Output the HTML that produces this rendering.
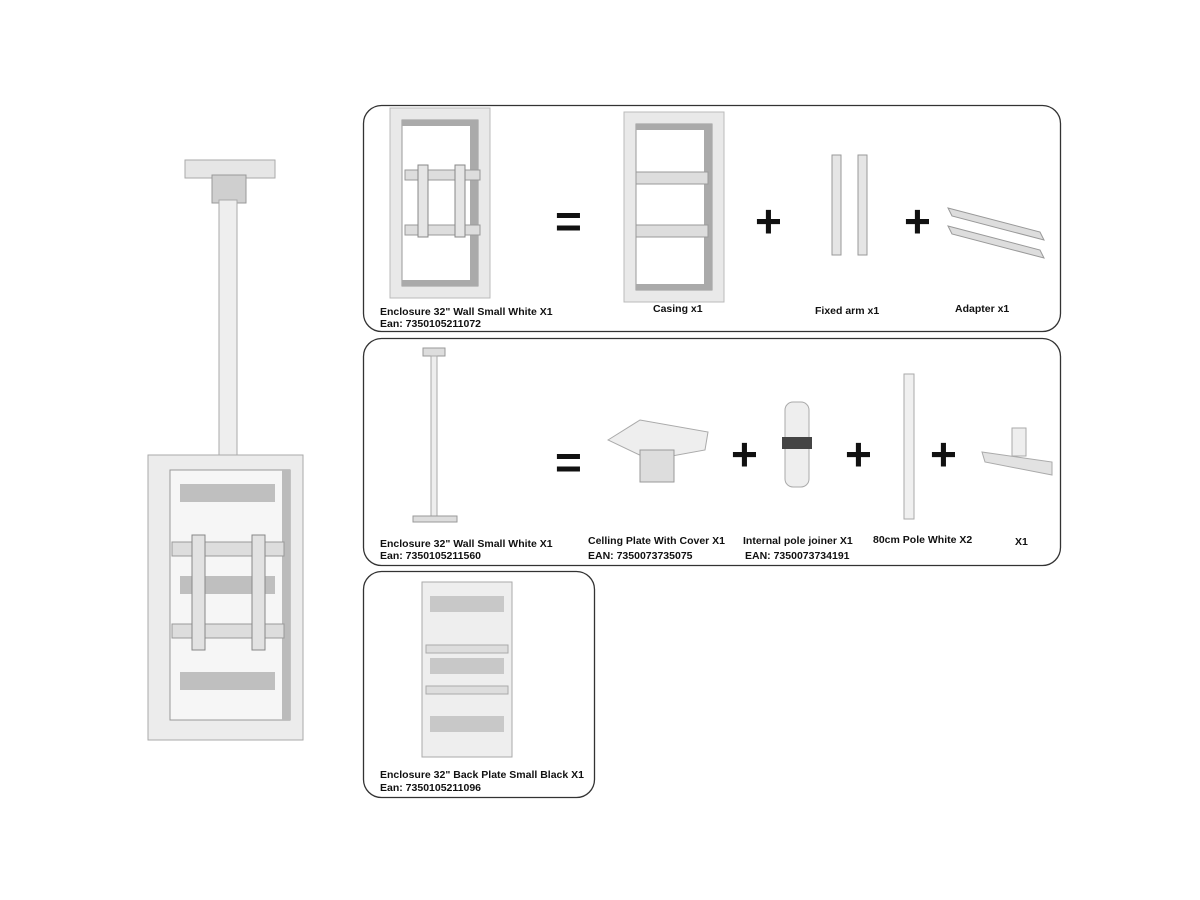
<!DOCTYPE html>
<html><head><style>
body{margin:0;background:#fff;}
svg{display:block}
text{font-family:"Liberation Sans",Arial,sans-serif;font-weight:bold;font-size:10.5px;fill:#111}
.pl{font-size:46px}
</style></head><body>
<svg width="1200" height="900" viewBox="0 0 1200 900" xmlns="http://www.w3.org/2000/svg">
<defs>
<g id="frame">
 <rect x="0" y="0" width="100" height="190" fill="#e9e9e9" stroke="#bbb"/>
 <rect x="12" y="12" width="76" height="166" fill="#fff" stroke="#999"/>
 <rect x="80" y="12" width="8" height="166" fill="#aaa"/>
 <rect x="12" y="12" width="76" height="6" fill="#aaa"/>
 <rect x="12" y="172" width="76" height="6" fill="#aaa"/>
</g>
</defs>
<!-- left big enclosure -->
<rect x="185" y="160" width="90" height="18" fill="#e6e6e6" stroke="#aaa"/>
<rect x="212" y="175" width="34" height="28" fill="#cfcfcf" stroke="#999"/>
<rect x="219" y="200" width="18" height="255" fill="#eee" stroke="#aaa"/>
<rect x="148" y="455" width="155" height="285" fill="#ececec" stroke="#aaa"/>
<rect x="170" y="470" width="120" height="250" fill="#f6f6f6" stroke="#999"/>
<rect x="282" y="470" width="8" height="250" fill="#bbb"/>
<g fill="#888">
 <rect x="180" y="484" width="95" height="18" opacity=".5"/>
 <rect x="180" y="576" width="95" height="18" opacity=".5"/>
 <rect x="180" y="672" width="95" height="18" opacity=".5"/>
</g>
<rect x="172" y="542" width="112" height="14" fill="#ddd" stroke="#999"/>
<rect x="172" y="624" width="112" height="14" fill="#ddd" stroke="#999"/>
<rect x="192" y="535" width="13" height="115" fill="#e2e2e2" stroke="#888"/>
<rect x="252" y="535" width="13" height="115" fill="#e2e2e2" stroke="#888"/>

<!-- panels -->
<g fill="none" stroke="#333" stroke-width="1.3">
<rect x="363.5" y="105.5" width="697" height="226" rx="18"/>
<rect x="363.5" y="338.5" width="697" height="227" rx="18"/>
<rect x="363.5" y="571.5" width="231" height="226" rx="18"/>
</g>

<!-- panel 1 -->
<use href="#frame" transform="translate(390,108)"/>
<rect x="405" y="170" width="75" height="10" fill="#ddd" stroke="#999"/>
<rect x="405" y="225" width="75" height="10" fill="#ddd" stroke="#999"/>
<rect x="418" y="165" width="10" height="72" fill="#e5e5e5" stroke="#888"/>
<rect x="455" y="165" width="10" height="72" fill="#e5e5e5" stroke="#888"/>
<use href="#frame" transform="translate(624,112)"/>
<rect x="636" y="172" width="72" height="12" fill="#ddd" stroke="#999"/>
<rect x="636" y="225" width="72" height="12" fill="#ddd" stroke="#999"/>
<rect x="832" y="155" width="9" height="100" fill="#e5e5e5" stroke="#999"/>
<rect x="858" y="155" width="9" height="100" fill="#e5e5e5" stroke="#999"/>
<polygon points="948,208 1040,232 1044,240 952,216" fill="#ddd" stroke="#999"/>
<polygon points="948,226 1040,250 1044,258 952,234" fill="#ddd" stroke="#999"/>
<text class="pl" x="555" y="237">=</text>
<text class="pl" x="755" y="237">+</text>
<text class="pl" x="904" y="237">+</text>
<text x="380" y="315">Enclosure 32" Wall Small White X1</text>
<text x="380" y="327">Ean: 7350105211072</text>
<text x="653" y="312">Casing x1</text>
<text x="815" y="314">Fixed arm x1</text>
<text x="955" y="312">Adapter x1</text>

<!-- panel 2 -->
<rect x="423" y="348" width="22" height="8" fill="#ddd" stroke="#999"/>
<rect x="431" y="356" width="6" height="160" fill="#eee" stroke="#aaa"/>
<rect x="413" y="516" width="44" height="6" fill="#ddd" stroke="#999"/>
<polygon points="608,440 640,420 708,432 705,450 650,460" fill="#eee" stroke="#aaa"/>
<rect x="640" y="450" width="34" height="32" fill="#ddd" stroke="#999"/>
<rect x="785" y="402" width="24" height="85" rx="8" fill="#eee" stroke="#aaa"/>
<rect x="782" y="437" width="30" height="12" fill="#444"/>
<rect x="904" y="374" width="10" height="145" fill="#f0f0f0" stroke="#aaa"/>
<rect x="1012" y="428" width="14" height="28" fill="#eee" stroke="#aaa"/>
<polygon points="982,452 1052,462 1052,475 985,462" fill="#e2e2e2" stroke="#aaa"/>
<text class="pl" x="555" y="478">=</text>
<text class="pl" x="731" y="470">+</text>
<text class="pl" x="845" y="470">+</text>
<text class="pl" x="930" y="470">+</text>
<text x="380" y="547">Enclosure 32" Wall Small White X1</text>
<text x="380" y="559">Ean: 7350105211560</text>
<text x="588" y="544">Celling Plate With Cover X1</text>
<text x="588" y="559">EAN: 7350073735075</text>
<text x="743" y="544">Internal pole joiner X1</text>
<text x="745" y="559">EAN: 7350073734191</text>
<text x="873" y="543">80cm Pole White X2</text>
<text x="1015" y="545">X1</text>

<!-- panel 3 -->
<rect x="422" y="582" width="90" height="175" fill="#eee" stroke="#aaa"/>
<rect x="430" y="596" width="74" height="16" fill="#999" opacity=".45"/>
<rect x="430" y="658" width="74" height="16" fill="#999" opacity=".45"/>
<rect x="430" y="716" width="74" height="16" fill="#999" opacity=".45"/>
<rect x="426" y="645" width="82" height="8" fill="#ddd" stroke="#aaa"/>
<rect x="426" y="686" width="82" height="8" fill="#ddd" stroke="#aaa"/>
<text x="380" y="778">Enclosure 32" Back Plate Small Black X1</text>
<text x="380" y="791">Ean: 7350105211096</text>
</svg>
</body></html>
